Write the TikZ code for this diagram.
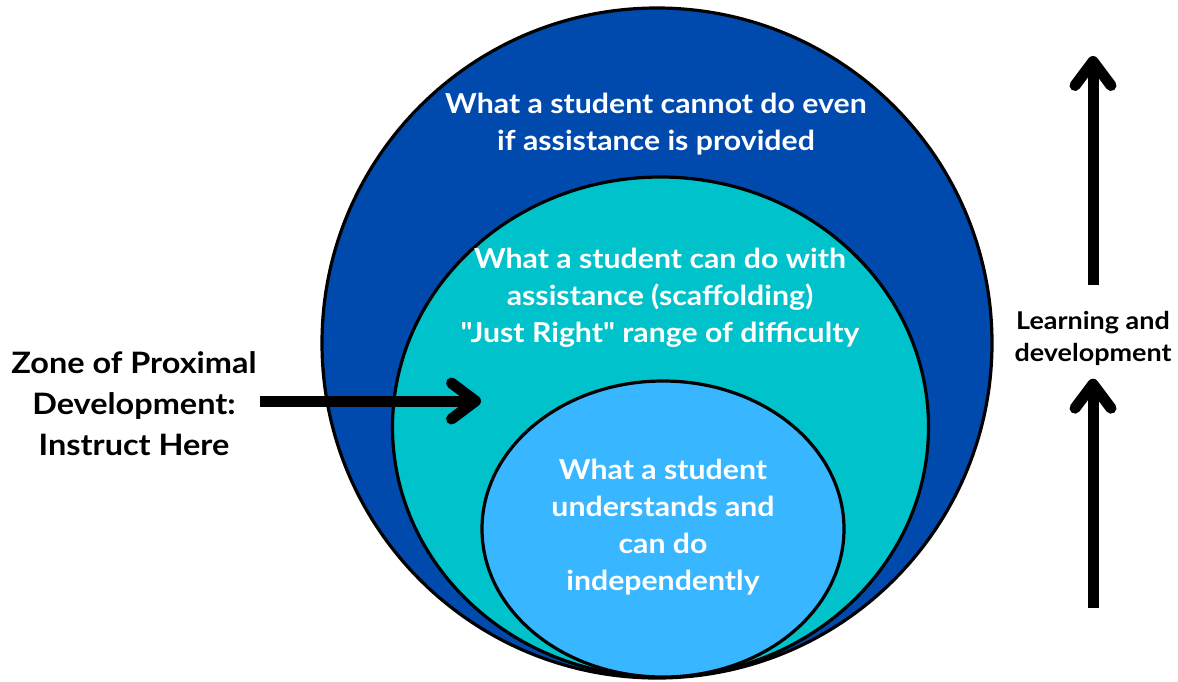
\documentclass[tikz,border=0pt]{standalone}
\usepackage{fontspec}
\setmainfont{Lato}[FakeStretch=1.1,Ligatures=TeXOff]
\usetikzlibrary{arrows.meta}

\begin{document}
\begin{tikzpicture}[x=1pt,y=-1pt,
    ring/.style={draw=black,line width=3.2pt},
    ringtext/.style={text=white,align=center,font=\fontsize{27.5}{37}\selectfont\bfseries},
    sidetext/.style={text=black,align=center},
    bigarrow/.style={line width=11pt,-{Straight Barb[length=24pt,width=36pt,round]}}]
  \definecolor{outerblue}{HTML}{004AAD}
  \definecolor{zoneteal}{HTML}{00C2CB}
  \definecolor{innerblue}{HTML}{38B6FF}
  \fill[white] (0,0) rectangle (1178,681);
  \useasboundingbox (0,0) rectangle (1178,681);

  % the three zones
  \filldraw[ring,fill=outerblue] (657,343) circle [radius=335];
  \filldraw[ring,fill=zoneteal] (660.5,427) ellipse [x radius=268, y radius=250];
  \filldraw[ring,fill=innerblue] (663,529) ellipse [x radius=181, y radius=148];

  \node[ringtext] (cannot) at (656,124) {What a student cannot do even\\if assistance is provided};
  \node[ringtext] (assisted) at (660,298) {What a student can do with\\assistance (scaffolding)\\"Just Right" range of difficulty};
  \node[ringtext] (alone) at (663,527) {What a student\\understands and\\can do\\independently};

  % labels outside
  \node[sidetext,font=\fontsize{29.5}{41}\selectfont\bfseries] (zpd) at (134,404) {Zone of Proximal\\Development:\\Instruct Here};
  \node[sidetext,font=\fontsize{24.5}{32}\selectfont\bfseries] (growth) at (1093,338) {Learning and\\development};

  \coordinate (zpdtip) at (481,401);
  \coordinate (uptip) at (1093,56);
  \coordinate (lowtail) at (1093,608);

  \draw[bigarrow] (zpd.east |- zpdtip) -- (zpdtip);
  \draw[bigarrow] ([yshift=22pt]growth.north) -- (uptip);
  \draw[bigarrow] (lowtail) -- ([yshift=-10pt]growth.south);
\end{tikzpicture}
\end{document}
